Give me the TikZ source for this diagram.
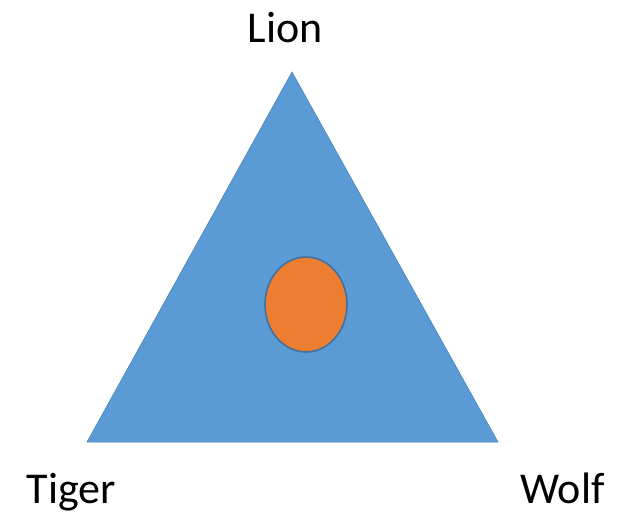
\documentclass[tikz,border=0pt]{standalone}
\usepackage{fontspec}
\setmainfont{Carlito}
\usetikzlibrary{shapes.geometric}
\usetikzlibrary{positioning}
\definecolor{blue}{RGB}{91,155,213}
\definecolor{darkblue}{RGB}{65,113,156}
\definecolor{orange}{RGB}{237,125,49}

\begin{document}
\begin{tikzpicture}[x=1pt,y=-1pt]

%---------------------------------------
% Styles
%---------------------------------------
\tikzset{
  corner/.style={font=\fontsize{44}{50}\selectfont, inner sep=0pt, anchor=base},
  mark dot/.style={ellipse, fill=orange, draw=darkblue, line width=1.6pt,
                   minimum width=82pt, minimum height=95pt, inner sep=0pt}
}

\useasboundingbox (0,0) rectangle (629,516);

% Triangle corners
\coordinate (top)   at (292,72);
\coordinate (left)  at (87,442);
\coordinate (right) at (498,442);

%---------------------------------------
% Triangle
%---------------------------------------
\fill[blue] (top) -- (right) -- (left) -- cycle;
\draw[darkblue!60!blue, line width=0.6pt] (top) -- (right) -- (left) -- cycle;

% Point inside
\node[mark dot] (dot) at (306,304.5) {};

%---------------------------------------
% Corner labels
%---------------------------------------
\node[corner] (lion)  at (285,43)  {Lion};
\node[corner] (tiger) at (71.5,503) {Tiger};
\node[corner] (wolf)  at (562.5,503) {Wolf};

\end{tikzpicture}
\end{document}
